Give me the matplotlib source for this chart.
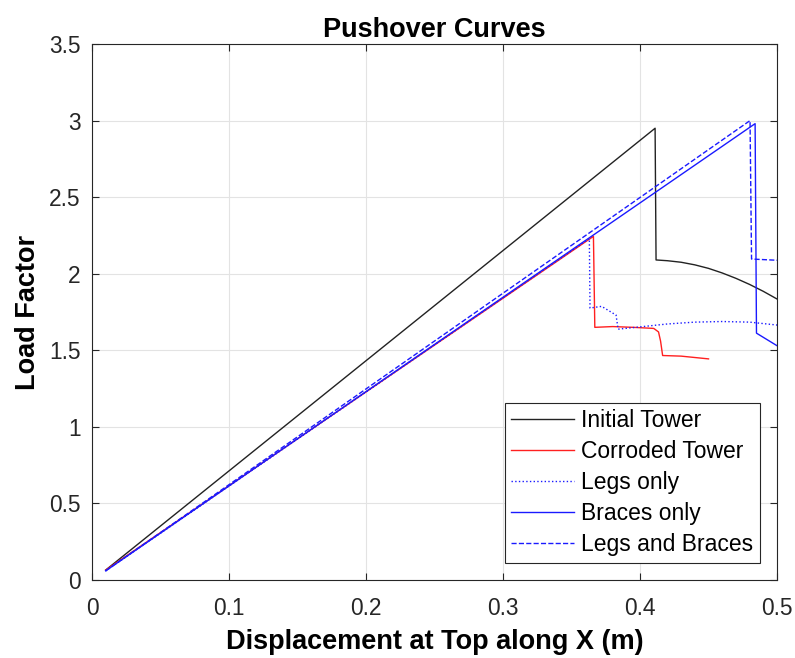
import numpy as np
import matplotlib
matplotlib.use("Agg")
import matplotlib.pyplot as plt

plt.rcParams['font.family'] = ['Liberation Sans', 'DejaVu Sans']

# Initial Tower
init_x = [0.010, 0.411, 0.4117, 0.420, 0.430, 0.440, 0.450, 0.460, 0.470, 0.480, 0.490, 0.500, 0.510]
init_y = [0.065, 2.950, 2.090, 2.085, 2.075, 2.058, 2.035, 2.005, 1.970, 1.930, 1.885, 1.835, 1.780]

# Corroded Tower
corr_x = [0.010, 0.366, 0.367, 0.380, 0.395, 0.410, 0.4135, 0.4150, 0.4165, 0.430, 0.450]
corr_y = [0.065, 2.244, 1.650, 1.655, 1.650, 1.643, 1.620, 1.560, 1.466, 1.462, 1.444]

# Legs only
legs_x = [0.010, 0.363, 0.3635, 0.372, 0.3825, 0.384, 0.400, 0.420, 0.440, 0.460, 0.480, 0.500]
legs_y = [0.060, 2.230, 1.776, 1.787, 1.730, 1.638, 1.653, 1.672, 1.684, 1.688, 1.684, 1.665]

# Braces only
brac_x = [0.010, 0.484, 0.485, 0.500]
brac_y = [0.060, 2.980, 1.612, 1.530]

# Legs and Braces
both_x = [0.010, 0.4803, 0.4814, 0.500]
both_y = [0.060, 3.000, 2.096, 2.088]

fig = plt.figure(figsize=(7.95, 6.58), dpi=100)
ax = fig.add_axes([0.1157, 0.1185, 0.8617, 0.8146])

ax.plot(init_x, init_y, color='#222222', lw=1.0, label='Initial Tower')
ax.plot(corr_x, corr_y, color='#ff2020', lw=1.0, label='Corroded Tower')
ax.plot(legs_x, legs_y, color='#1a1aff', lw=1.0, ls=':', label='Legs only')
ax.plot(brac_x, brac_y, color='#1a1aff', lw=1.0, label='Braces only')
ax.plot(both_x, both_y, color='#1a1aff', lw=1.0, ls='--', label='Legs and Braces')

ax.set_xlim(0, 0.5)
ax.set_ylim(0, 3.5)
ax.set_xticks(np.arange(0, 0.51, 0.1))
ax.set_xticklabels(['0', '0.1', '0.2', '0.3', '0.4', '0.5'])
ax.set_yticks(np.arange(0, 3.51, 0.5))
ax.set_yticklabels(['0', '0.5', '1', '1.5', '2', '2.5', '3', '3.5'])
ax.tick_params(direction='in', top=True, right=True, labelsize=16.4,
               colors='#262626', length=5, width=0.8)
ax.tick_params(axis='x', pad=12)
ax.tick_params(axis='y', pad=8)
for s in ax.spines.values():
    s.set_color('#262626')
    s.set_linewidth(0.8)
ax.grid(True, color='#e3e3e3', lw=0.8)
ax.set_axisbelow(True)

ax.set_title('Pushover Curves', fontsize=19.5, fontweight='bold', pad=5)
ax.set_xlabel('Displacement at Top along X (m)', fontsize=19.5, fontweight='bold', labelpad=7)
ax.set_ylabel('Load Factor', fontsize=19.5, fontweight='bold', labelpad=6)

leg = ax.legend(loc='lower right', fontsize=16.5, handlelength=2.75, fancybox=False,
                framealpha=1, edgecolor='#262626', borderaxespad=0.75,
                labelspacing=0.35, handletextpad=0.3, borderpad=0.28)
leg.get_frame().set_linewidth(0.8)

fig.savefig('out.png', dpi=100)
